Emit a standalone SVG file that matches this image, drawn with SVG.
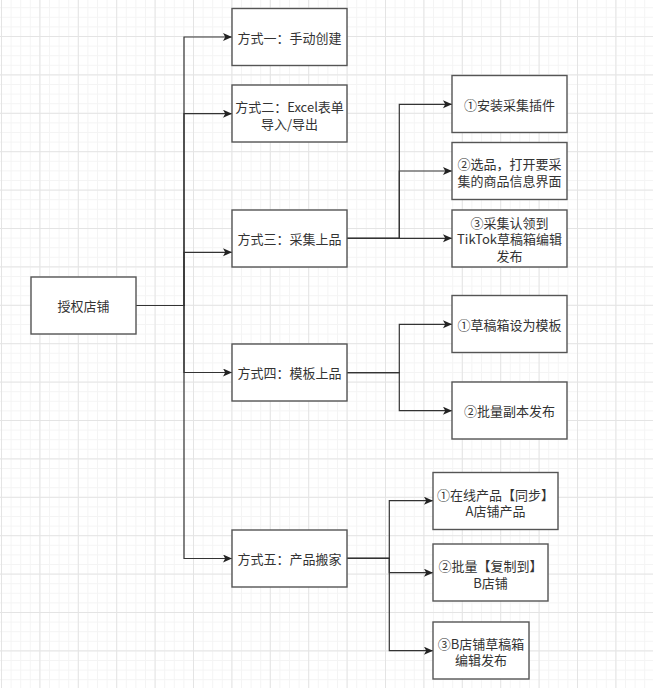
<svg xmlns="http://www.w3.org/2000/svg" width="653" height="688" viewBox="0 0 653 688">
<defs>
<pattern id="minor" patternUnits="userSpaceOnUse" x="1" y="-2.4" width="9.6" height="9.6">
<path d="M0 0.5 H9.6 M0.5 0 V9.6" fill="none" stroke="#f4f4f4" stroke-width="1"/>
</pattern>
<pattern id="major" patternUnits="userSpaceOnUse" x="1" y="-2.4" width="38.4" height="38.4">
<path d="M0 0.5 H38.4 M0.5 0 V38.4" fill="none" stroke="#e4e4e4" stroke-width="1"/>
</pattern>
<marker id="arr" markerUnits="userSpaceOnUse" markerWidth="10" markerHeight="10" refX="9" refY="4" orient="auto">
<path d="M0,0 L9,4 L0,8 L2.2,4 Z" fill="#222"/>
</marker>
<style>
.box{fill:#fff;stroke:#555;stroke-width:1.4}
.t{font-family:"Noto Sans CJK SC","Microsoft YaHei",sans-serif;font-size:13px;fill:#333;text-anchor:middle;dominant-baseline:central}
.e{fill:none;stroke:#333;stroke-width:1.2}
</style>
</defs>
<rect width="653" height="688" fill="#fff"/>
<rect width="653" height="688" fill="url(#minor)"/>
<rect width="653" height="688" fill="url(#major)"/>

<g id="connectors">
<path class="e" d="M136 305.5 H184 V37 H232" marker-end="url(#arr)"/>
<path class="e" d="M136 305.5 H184 V113.7 H232" marker-end="url(#arr)"/>
<path class="e" d="M136 305.5 H184 V252.3 H232" marker-end="url(#arr)"/>
<path class="e" d="M136 305.5 H184 V372.5 H232" marker-end="url(#arr)"/>
<path class="e" d="M136 305.5 H184 V558.5 H232" marker-end="url(#arr)"/>
<path class="e" d="M347 238.3 H399.3 V104.3 H452" marker-end="url(#arr)"/>
<path class="e" d="M347 238.3 H399.3 V171 H452" marker-end="url(#arr)"/>
<path class="e" d="M347 238.3 H452" marker-end="url(#arr)"/>
<path class="e" d="M347 372.7 H399.3 V324.3 H452" marker-end="url(#arr)"/>
<path class="e" d="M347 372.7 H399.3 V410.7 H452" marker-end="url(#arr)"/>
<path class="e" d="M347 558.3 H389.3 V500.7 H433" marker-end="url(#arr)"/>
<path class="e" d="M347 558.3 H389.3 V572.7 H433" marker-end="url(#arr)"/>
<path class="e" d="M347 558.3 H389.3 V650.7 H433" marker-end="url(#arr)"/>
</g>

<g id="root">
<rect class="box" x="31" y="277" width="105" height="57"/>
<text class="t" x="83.5" y="305.5">授权店铺</text>
</g>
<g id="m1">
<rect class="box" x="232" y="8.5" width="115" height="57"/>
<text class="t" x="289.5" y="37">方式一：手动创建</text>
</g>
<g id="m2">
<rect class="box" x="232" y="85" width="115" height="57"/>
<text class="t" x="289.5" y="106.5">方式二：Excel表单<tspan x="289.5" dy="16.5">导入/导出</tspan></text>
</g>
<g id="m3">
<rect class="box" x="232" y="210" width="115" height="57"/>
<text class="t" x="289.5" y="238.3">方式三：采集上品</text>
</g>
<g id="m4">
<rect class="box" x="232" y="344" width="115" height="57"/>
<text class="t" x="289.5" y="372.5">方式四：模板上品</text>
</g>
<g id="m5">
<rect class="box" x="232" y="530" width="115" height="57"/>
<text class="t" x="289.5" y="558.5">方式五：产品搬家</text>
</g>
<g id="c3a">
<rect class="box" x="452" y="75.5" width="115" height="57"/>
<text class="t" x="509.5" y="104">①安装采集插件</text>
</g>
<g id="c3b">
<rect class="box" x="452" y="142.5" width="115" height="57"/>
<text class="t" x="509.5" y="163.8">②选品，打开要采<tspan x="509.5" dy="16.5">集的商品信息界面</tspan></text>
</g>
<g id="c3c">
<rect class="box" x="452" y="210" width="115" height="57"/>
<text class="t" x="509.5" y="222">③采集认领到<tspan x="509.5" dy="16.3">TikTok草稿箱编辑</tspan><tspan x="509.5" dy="16.3">发布</tspan></text>
</g>
<g id="c4a">
<rect class="box" x="452" y="295.5" width="115" height="57"/>
<text class="t" x="509.5" y="324">①草稿箱设为模板</text>
</g>
<g id="c4b">
<rect class="box" x="452" y="382" width="115" height="57"/>
<text class="t" x="509.5" y="410.7">②批量副本发布</text>
</g>
<g id="c5a">
<rect class="box" x="433" y="472.5" width="125" height="57"/>
<text class="t" x="495.5" y="494">①在线产品【同步】<tspan x="495.5" dy="16.4">A店铺产品</tspan></text>
</g>
<g id="c5b">
<rect class="box" x="433" y="544" width="115" height="57"/>
<text class="t" x="490.5" y="565.8">②批量【复制到】<tspan x="490.5" dy="16.4">B店铺</tspan></text>
</g>
<g id="c5c">
<rect class="box" x="433" y="622" width="96" height="57"/>
<text class="t" x="481" y="643">③B店铺草稿箱<tspan x="481" dy="16.4">编辑发布</tspan></text>
</g>
</svg>
